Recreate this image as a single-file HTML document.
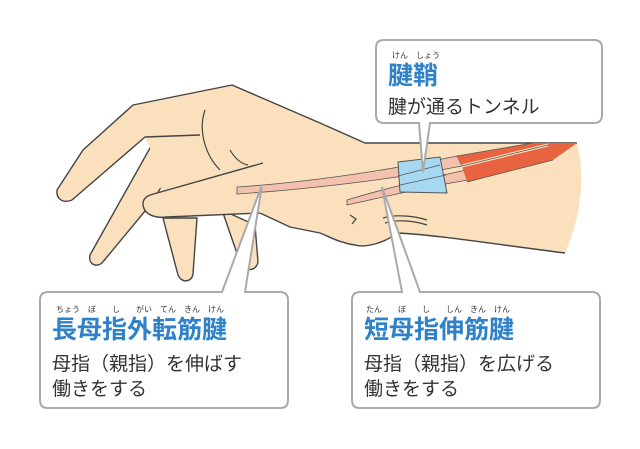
<!DOCTYPE html><html><head><meta charset="utf-8"><style>body{margin:0;background:#fff}svg{display:block}text{font-family:"Liberation Sans","Noto Sans CJK JP",sans-serif}</style></head><body>
<svg width="640" height="449" viewBox="0 0 640 449">
<g fill="#fbe0bd" stroke="#444" stroke-width="1.4" stroke-linejoin="round">
<path d="M222,210 L240,262 C244,272 256,272 258,262 L255,225 Z"/>
<path d="M163,218 L178,275 C182,284 192,282 193,274 L197,218 Z"/>
<path d="M173,137 L150,148 L90,255 C88,264 96,268 102,263 L150,205 L175,165 Z"/>
</g>
<path d="M57,190 L83,150 L133,105 L232,85 L320,123 L365,143 L577,143 C586,180 580,220 565,253 C500,245 440,235 397,233 C385,243 365,248 355,245 C340,243 330,237 320,233 L290,227 L260,213 L165,205 L150,148 L145,137 L72,200 C62,204 56,198 57,190 Z" fill="#fbe0bd"/>
<g fill="none" stroke="#444" stroke-width="1.4" stroke-linejoin="round">
<path d="M72,200 C62,204 56,198 57,190 L83,150 L133,105 L232,85 L320,123 L365,143 L577,143"/>
<path d="M565,253 C500,245 440,235 397,233 C385,243 365,248 355,245 C340,243 330,237 320,233 L290,227 L260,213"/>
<path d="M72,200 L145,137 L200,135"/>
</g>
<path d="M263,163 L150,195 C145,197 143,200 143,204 C143,211 150,219 167,217 L262,213 Z" fill="#fbe0bd"/>
<path d="M263,163 L150,195 C145,197 143,200 143,204 C143,211 150,219 167,217 L260,213" fill="none" stroke="#444" stroke-width="1.4"/>
<g fill="none" stroke="#444" stroke-width="1.2">
<path d="M205,110 C198,130 205,155 220,170"/>
<path d="M230,150 C236,160 242,164 248,165"/>
<path d="M350,215 L356,219 L352,224 M383,218 C395,214 415,216 427,220 M385,223 C398,219 415,221 427,225"/>
</g>
<path d="M237,187 C300,183 380,172 457,156 L462,166 C390,180 300,190 237,194 Z" fill="#f3c1ae" stroke="#555" stroke-width="0.8"/>
<path d="M347,200 C380,190 420,180 466,170 L468,180 C420,188 380,198 347,205 Z" fill="#f3c1ae" stroke="#555" stroke-width="0.8"/>
<path d="M457,156 L533,143 L577,143 L553,160 L467,182 L462,166 Z" fill="#e86340"/>
<path d="M462,166 L548,145" stroke="#fbe0bd" stroke-width="3"/>
<path d="M457,156 L533,143 M462,166 L548,145 M467,182 L553,160" stroke="#555" stroke-width="0.8" fill="none"/>
<path d="M398,162 L440,157 L447,193 L400,192 Z" fill="#a7d8f2" stroke="#555" stroke-width="1"/>
<path d="M398,176 L440,165 M400,185 L446,175" stroke="#555" stroke-width="0.8"/>
<g fill="#fff" stroke="#aaa" stroke-width="2">
<path d="M384,40 H594 Q602,40 602,48 V115 Q602,123 594,123 H430 L423,172 L419,123 H384 Q376,123 376,115 V48 Q376,40 384,40 Z"/>
<path d="M48,292 H222 L262,185 L245,292 H280 Q288,292 288,300 V400 Q288,408 280,408 H48 Q40,408 40,400 V300 Q40,292 48,292 Z"/>
<path d="M360,292 H402 L382,187 L420,292 H592 Q600,292 600,300 V400 Q600,408 592,408 H360 Q352,408 352,400 V300 Q352,292 360,292 Z"/>
</g>
<g font-size="8" fill="#333"><text x="392" y="58">けん　しょう</text>
<text x="56" y="312">ちょう　ぼ　　し　　がい　てん　きん　けん</text>
<text x="366" y="312">たん　　ぼ　　し　　しん　きん　けん</text></g>
<g font-size="25" font-weight="bold" fill="#2f82c8">
<text x="388" y="84">腱鞘</text>
<text x="52" y="338">長母指外転筋腱</text>
<text x="364" y="338">短母指伸筋腱</text></g>
<g font-size="19" fill="#333">
<text x="388" y="113">腱が通るトンネル</text>
<text x="52" y="370">母指（親指）を伸ばす</text>
<text x="52" y="395">働きをする</text>
<text x="364" y="370">母指（親指）を広げる</text>
<text x="364" y="395">働きをする</text></g>
</svg></body></html>
